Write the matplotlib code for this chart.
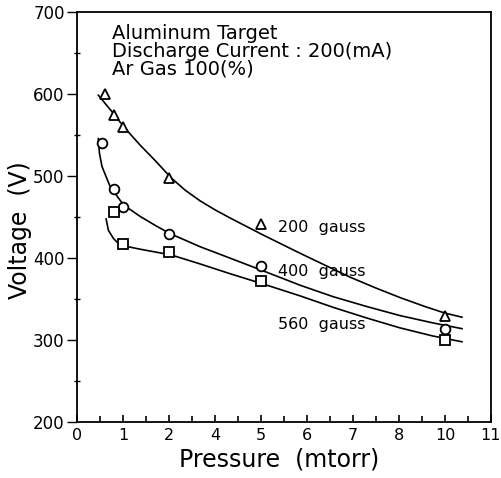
import numpy as np
import matplotlib
matplotlib.use('Agg')
import matplotlib.pyplot as plt
from matplotlib.scale import FuncScale

# axis labels as printed (evenly spaced on the page)
x_tick_values = [0, 1, 2, 4, 5, 6, 7, 8, 10, 11]
x_tick_labels = ['0', '1', '2', '4', '5', '6', '7', '8', '10', '11']

# measured points
p_200 = [0.6, 0.8, 1.0, 2.0, 5.0, 10.0]
v_200 = [601, 575, 560, 498, 442, 329]
p_400 = [0.55, 0.8, 1.0, 2.0, 5.0, 10.0]
v_400 = [541, 485, 463, 429, 390, 314]
p_560 = [0.8, 1.0, 2.0, 5.0, 10.0]
v_560 = [457, 417, 407, 372, 300]

# fitted curves
cp_200 = [0.46, 0.74, 1.02, 1.37, 1.70, 2.09, 2.70, 3.35, 4.0, 4.33, 5.02, 5.85, 6.93, 7.48, 8.04, 9.13, 10.0, 10.37]
cv_200 = [599, 580, 560, 538, 519, 498, 483, 470, 459, 449, 429, 406, 377, 364, 352, 341, 333, 328]
cp_400 = [0.46, 0.485, 0.54, 0.72, 1.01, 1.37, 1.70, 2.04, 2.70, 3.35, 4.33, 4.98, 5.85, 6.57, 7.30, 8.04, 9.48, 10.37]
cv_400 = [546, 528, 512, 487, 465, 451, 440, 430, 422, 414, 400, 386, 367, 353, 341, 330, 321, 314]
cp_560 = [0.63, 0.68, 0.79, 0.935, 1.37, 2.09, 3.35, 4.33, 5.02, 5.85, 6.57, 7.30, 8.04, 9.48, 10.37]
cv_560 = [448, 434, 424, 416, 411, 404, 393, 381, 369, 354, 340, 327, 315, 305, 298]

pos = np.arange(len(x_tick_values), dtype=float)


def fwd(x):
    return np.interp(x, x_tick_values, pos)


def inv(i):
    return np.interp(i, pos, x_tick_values)


fig = plt.figure(figsize=(5.01, 4.78), dpi=100)
ax = fig.add_axes([0.154, 0.117, 0.826, 0.857])
ax.set_xscale(FuncScale(ax.xaxis, (fwd, inv)))

# curves
ax.plot(cp_200, cv_200, '-', color='black', lw=1.2)
ax.plot(cp_400, cv_400, '-', color='black', lw=1.2)
ax.plot(cp_560, cv_560, '-', color='black', lw=1.2)

# markers
mk = dict(linestyle='none', mfc='white', mec='black', mew=1.3, ms=7)
ax.plot(p_200, v_200, marker='^', **mk)
ax.plot(p_400, v_400, marker='o', **mk)
ax.plot(p_560, v_560, marker='s', **mk)

ax.set_xlim(0, 11)
ax.set_ylim(200, 700)

ax.set_xticks(x_tick_values)
ax.set_xticklabels(x_tick_labels)
ax.set_xticks(inv(pos[:-1] + 0.5), minor=True)
ax.set_yticks([200, 300, 400, 500, 600, 700])
ax.set_yticks([250, 350, 450, 550, 650], minor=True)

ax.tick_params(axis='y', which='major', direction='out', length=7, width=1, labelsize=12, pad=2)
ax.tick_params(axis='y', which='minor', direction='inout', length=5, width=1)
ax.tick_params(axis='x', which='major', direction='in', length=5, width=1.2, labelsize=11.5, pad=4)
ax.tick_params(axis='x', which='minor', direction='in', length=4, width=1.2)
for s in ax.spines.values():
    s.set_linewidth(1.3)

ax.set_xlabel('Pressure  (mtorr)', fontsize=17)
ax.xaxis.set_label_coords(0.488, -0.063)
fig.text(20 / 501, 1 - 230 / 478, 'Voltage  (V)', fontsize=17, rotation=90,
         ha='center', va='center')

# header text
ax.text(0.085, 0.935, 'Aluminum Target', transform=ax.transAxes, fontsize=14, va='baseline')
ax.text(0.085, 0.891, 'Discharge Current : 200(mA)', transform=ax.transAxes, fontsize=14, va='baseline')
ax.text(0.085, 0.848, 'Ar Gas 100(%)', transform=ax.transAxes, fontsize=14, va='baseline')

ax.text(0.486, 0.474, '200  gauss', transform=ax.transAxes, fontsize=11.5, va='center')
ax.text(0.486, 0.367, '400  gauss', transform=ax.transAxes, fontsize=11.5, va='center')
ax.text(0.486, 0.237, '560  gauss', transform=ax.transAxes, fontsize=11.5, va='center')

fig.savefig('out.png', dpi=100)
